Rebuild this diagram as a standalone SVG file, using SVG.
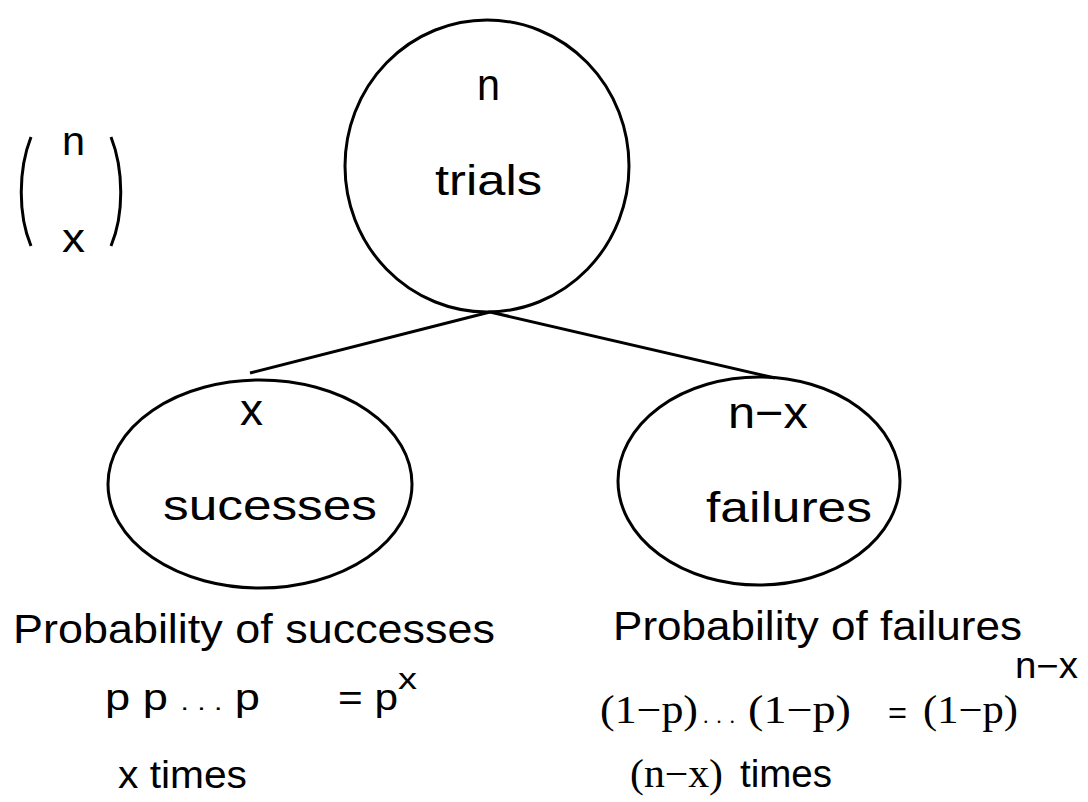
<svg xmlns="http://www.w3.org/2000/svg" width="1088" height="802" viewBox="0 0 1088 802">
<style>
.shape{fill:none;stroke:#000;stroke-width:3}
.s{font-family:"Liberation Sans",Arial,sans-serif;fill:#000}
.r{font-family:"Liberation Serif","Times New Roman",serif;fill:#000}
</style>
<rect width="1088" height="802" fill="#fff"/>
<g id="binom">
<path class="shape" d="M31,137 C18,170 18,215 31,246" stroke-width="3.5"/>
<path class="shape" d="M111,137 C124,170 124,215 111,246" stroke-width="3.5"/>
<text class="s" x="62" y="155" font-size="40" textLength="23" lengthAdjust="spacingAndGlyphs">n</text>
<text class="s" x="62" y="252" font-size="40" textLength="23" lengthAdjust="spacingAndGlyphs">x</text>
</g>
<g id="connectors">
<line class="shape" x1="490" y1="312" x2="250" y2="373"/>
<line class="shape" x1="490" y1="312" x2="775" y2="378"/>
</g>
<g id="trials">
<ellipse class="shape" cx="487" cy="166" rx="142" ry="146"/>
<text class="s" x="477" y="100" font-size="44" textLength="23" lengthAdjust="spacingAndGlyphs">n</text>
<text class="s" x="435" y="195" font-size="42" textLength="107" lengthAdjust="spacingAndGlyphs">trials</text>
</g>
<g id="successes">
<ellipse class="shape" cx="260" cy="484" rx="152" ry="104"/>
<text class="s" x="240" y="425" font-size="44" textLength="23" lengthAdjust="spacingAndGlyphs">x</text>
<text class="s" x="163" y="520" font-size="42" textLength="214" lengthAdjust="spacingAndGlyphs">sucesses</text>
</g>
<g id="failures">
<ellipse class="shape" cx="759" cy="481" rx="141" ry="104"/>
<text class="s" x="728" y="428" font-size="44" textLength="80" lengthAdjust="spacingAndGlyphs">n−x</text>
<text class="s" x="706" y="522" font-size="42" textLength="166" lengthAdjust="spacingAndGlyphs">failures</text>
</g>
<g id="left-text">
<text class="s" x="13" y="643" font-size="41" textLength="482" lengthAdjust="spacingAndGlyphs">Probability of successes</text>
<text class="s" x="105" y="710" font-size="36" textLength="155" lengthAdjust="spacingAndGlyphs">p p <tspan font-size="24">. . .</tspan> p</text>
<text class="s" x="338" y="710" font-size="36" textLength="60" lengthAdjust="spacingAndGlyphs">= p</text>
<text class="s" x="398" y="689" font-size="30" textLength="19" lengthAdjust="spacingAndGlyphs">x</text>
<text class="s" x="118" y="788" font-size="38" textLength="129" lengthAdjust="spacingAndGlyphs">x times</text>
</g>
<g id="right-text">
<text class="s" x="613" y="640" font-size="41" textLength="409" lengthAdjust="spacingAndGlyphs">Probability of failures</text>
<text class="r" x="600" y="723" font-size="40" textLength="98" lengthAdjust="spacingAndGlyphs">(1−p)</text>
<text class="r" x="703" y="723" font-size="22" textLength="32" lengthAdjust="spacing">...</text>
<text class="r" x="748" y="723" font-size="40" textLength="103" lengthAdjust="spacingAndGlyphs">(1−p)</text>
<text class="s" x="888" y="723" font-size="30" textLength="19" lengthAdjust="spacingAndGlyphs">=</text>
<text class="r" x="923" y="723" font-size="40" textLength="95" lengthAdjust="spacingAndGlyphs">(1−p)</text>
<text class="s" x="1015" y="678" font-size="36" textLength="63" lengthAdjust="spacingAndGlyphs">n−x</text>
<text class="r" x="630" y="787" font-size="40" textLength="93" lengthAdjust="spacingAndGlyphs">(n−x)</text>
<text class="s" x="740" y="787" font-size="38" textLength="92" lengthAdjust="spacingAndGlyphs">times</text>
</g>
</svg>
